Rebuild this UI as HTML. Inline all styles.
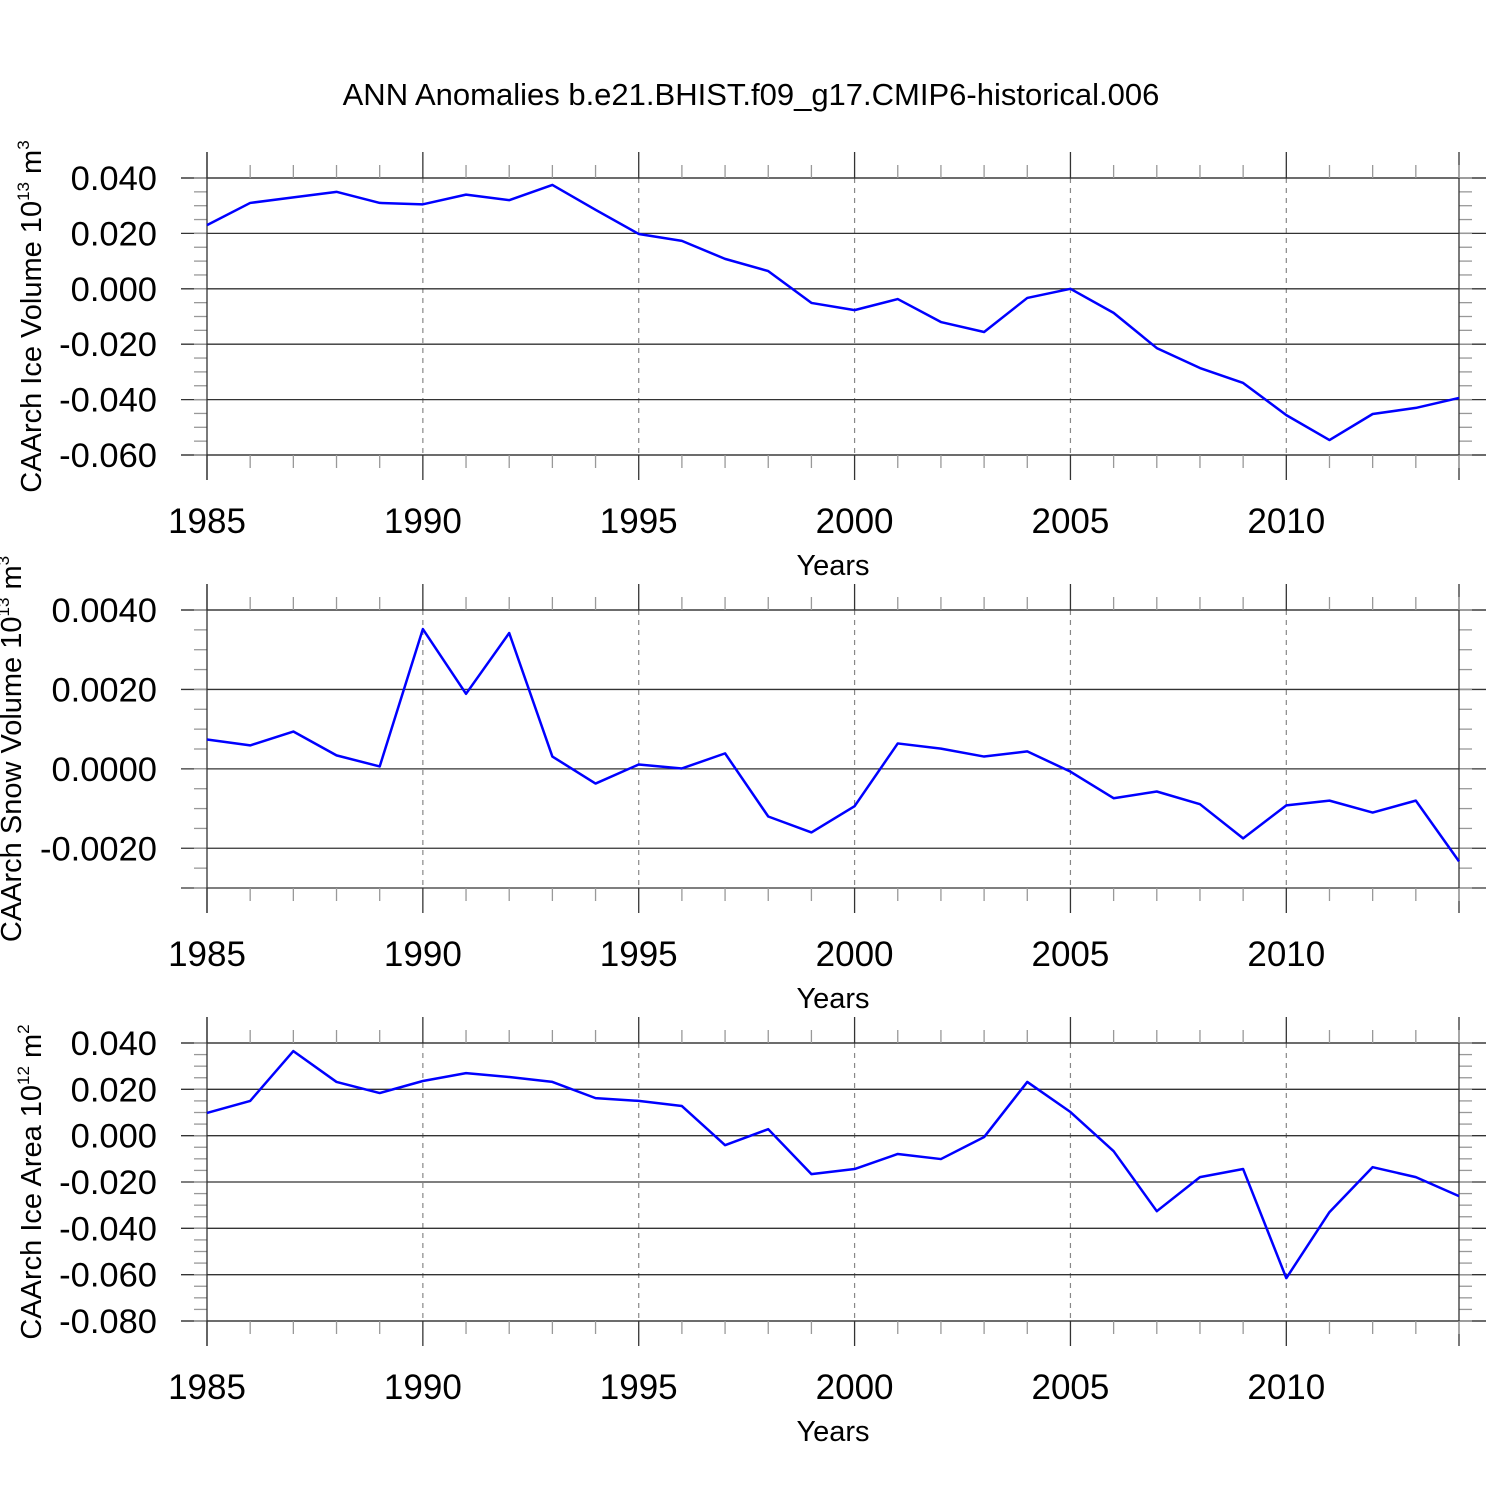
<!DOCTYPE html>
<html><head><meta charset="utf-8"><style>
body{margin:0;background:#fff}
svg{display:block;font-family:"Liberation Sans",sans-serif}
</style></head><body>
<svg id="chart" width="1500" height="1500" viewBox="0 0 1500 1500">
<text x="751" y="105" text-anchor="middle" font-size="31">ANN Anomalies b.e21.BHIST.f09_g17.CMIP6-historical.006</text>
</svg>
<script>
const years=[1985,1986,1987,1988,1989,1990,1991,1992,1993,1994,1995,1996,1997,1998,1999,2000,2001,2002,2003,2004,2005,2006,2007,2008,2009,2010,2011,2012,2013,2014];
const xTicks=[1985,1990,1995,2000,2005,2010];
const iceVolume=[0.023,0.031,0.033,0.035,0.031,0.0305,0.034,0.032,0.0375,0.0285,0.0198,0.0173,0.0108,0.0064,-0.0051,-0.0077,-0.0037,-0.012,-0.0156,-0.0033,0.0,-0.0087,-0.0214,-0.0286,-0.034,-0.0456,-0.0546,-0.0452,-0.043,-0.0394];
const snowVolume=[0.00074,0.00059,0.00094,0.00034,0.00006,0.00352,0.00189,0.00342,0.00031,-0.00037,0.00011,0.00001,0.00039,-0.0012,-0.0016,-0.00094,0.00064,0.00051,0.00031,0.00044,-0.00007,-0.00074,-0.00057,-0.00089,-0.00175,-0.00092,-0.0008,-0.0011,-0.0008,-0.00233];
const iceArea=[0.0098,0.015,0.0365,0.0232,0.0184,0.0236,0.027,0.0253,0.0232,0.0162,0.015,0.0128,-0.0041,0.0028,-0.0166,-0.0144,-0.0079,-0.0101,-0.0006,0.0232,0.0102,-0.0067,-0.0326,-0.0179,-0.0144,-0.0615,-0.033,-0.0136,-0.0179,-0.0261];
const iceVolumeTicks=[0.04,0.02,0,-0.02,-0.04,-0.06];
const iceVolumeLabels=["0.040","0.020","0.000","-0.020","-0.040","-0.060"];
const snowTicks=[0.004,0.002,0,-0.002];
const snowLabels=["0.0040","0.0020","0.0000","-0.0020"];
const areaTicks=[0.04,0.02,0,-0.02,-0.04,-0.06,-0.08];
const areaLabels=["0.040","0.020","0.000","-0.020","-0.040","-0.060","-0.080"];

const svg=document.getElementById('chart');
const NS='http://www.w3.org/2000/svg';
function mk(tag,attrs,parent){const e=document.createElementNS(NS,tag);for(const k in attrs)e.setAttribute(k,attrs[k]);(parent||svg).appendChild(e);return e;}
const X0=207,X1=1459;
const xs=y=>X0+(y-1985)*(X1-X0)/(2014-1985);

const panels=[
 {name:'ice-volume',data:iceVolume,ticks:iceVolumeTicks,labels:iceVolumeLabels,ymax:0.04,ymin:-0.06,top:178,bot:455,minor:0.005,ylab:['CAArch Ice Volume 10','13',' m','3'],ylx:41},
 {name:'snow-volume',data:snowVolume,ticks:snowTicks,labels:snowLabels,ymax:0.004,ymin:-0.003,top:610,bot:888,minor:0.0005,ylab:['CAArch Snow Volume 10','13',' m','3'],ylx:21},
 {name:'ice-area',data:iceArea,ticks:areaTicks,labels:areaLabels,ymax:0.04,ymin:-0.08,top:1043,bot:1321,minor:0.005,ylab:['CAArch Ice Area 10','12',' m','2'],ylx:41}
];
panels.forEach(p=>{
 const g=mk('g',{});
 
 
 const ys=v=>p.top+(p.ymax-v)*(p.bot-p.top)/(p.ymax-p.ymin);
 xTicks.slice(1).forEach(t=>{const l=mk('line',{x1:xs(t),x2:xs(t),y1:p.top,y2:p.bot,stroke:'#888','stroke-width':1.2,'stroke-dasharray':'5,5'},g);
  });
 p.ticks.forEach((t,i)=>{const y=ys(t);
  const l=mk('line',{x1:181,x2:1486,y1:y,y2:y,stroke:'#333','stroke-width':1.3},g);
  
  const tx=mk('text',{x:157,y:y+12,'text-anchor':'end','font-size':34.5},g);tx.textContent=p.labels[i];
  });
 [p.top,p.bot].forEach(y=>{mk('line',{x1:181,x2:1486,y1:y,y2:y,stroke:'#333','stroke-width':1.3},g);});
 for(let v=p.ymin;v<=p.ymax+1e-9;v+=p.minor){const y=ys(v);
  mk('line',{x1:194,x2:X0,y1:y,y2:y,stroke:'#999','stroke-width':1.3},g);
  mk('line',{x1:X1,x2:1472,y1:y,y2:y,stroke:'#999','stroke-width':1.3},g);}
 [X0,X1].forEach(x=>mk('line',{x1:x,x2:x,y1:p.top-26,y2:p.bot+25,stroke:'#333','stroke-width':1.3},g));
 years.forEach(yr=>{const x=xs(yr);const major=xTicks.includes(yr);
  mk('line',{x1:x,x2:x,y1:p.top-(major?26:13),y2:p.top,stroke:major?'#333':'#999','stroke-width':1.3},g);
  mk('line',{x1:x,x2:x,y1:p.bot,y2:p.bot+(major?25:13),stroke:major?'#333':'#999','stroke-width':1.3},g);});
 xTicks.forEach(t=>{const tx=mk('text',{x:xs(t),y:p.bot+78,'text-anchor':'middle','font-size':35},g);tx.textContent=t;
  });
 const xl=mk('text',{x:833,y:p.bot+120,'text-anchor':'middle','font-size':29},g);xl.textContent='Years';
 
 const cy=(p.top+p.bot)/2;
 const yl=mk('text',{x:p.ylx,y:cy,'text-anchor':'middle','font-size':29,transform:`rotate(-90 ${p.ylx} ${cy})`},g);
 
 yl.innerHTML=`${p.ylab[0]}<tspan dy="-12" font-size="17">${p.ylab[1]}</tspan><tspan dy="12">${p.ylab[2]}</tspan><tspan dy="-12" font-size="17">${p.ylab[3]}</tspan>`;
 const pts=p.data.map((v,i)=>xs(years[i])+','+ys(v)).join(' ');
 const pl=mk('polyline',{points:pts,fill:'none',stroke:'#0000ff','stroke-width':2.5,'stroke-linejoin':'round'},g);
 
});
</script>
</body></html>
